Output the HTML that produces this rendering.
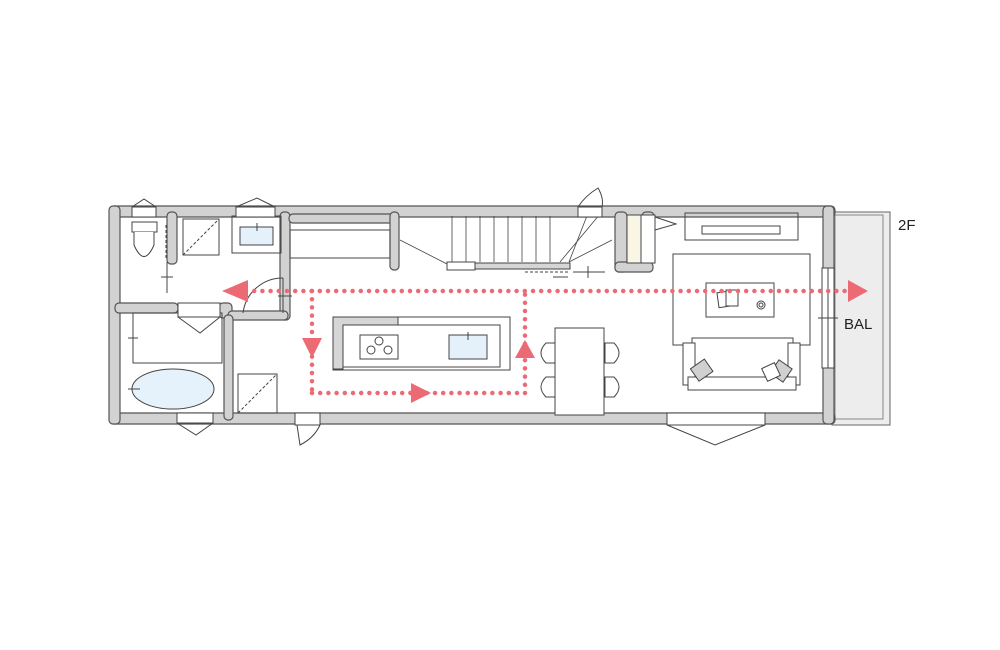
<!DOCTYPE html>
<html><head><meta charset="utf-8"><style>html,body{margin:0;padding:0;background:#fff}svg{display:block}</style></head>
<body>
<svg width="1000" height="650" viewBox="0 0 1000 650" xmlns="http://www.w3.org/2000/svg" font-family="Liberation Sans, sans-serif">
<rect width="1000" height="650" fill="#fff"/>
<!-- balcony -->
<rect x="832" y="212" width="58" height="213" fill="#ededed" stroke="#666" stroke-width="1"/>
<rect x="835" y="215" width="48" height="204" fill="none" stroke="#888" stroke-width="1"/>
<g fill="#d2d2d2" stroke="#555" stroke-width="1.2">
<!-- outer walls -->
<rect x="110" y="206" width="725" height="11" rx="4"/>
<rect x="110" y="413" width="725" height="11" rx="4"/>
<rect x="109" y="206" width="11" height="218" rx="4"/>
<rect x="823" y="206" width="11" height="218" rx="4"/>
<!-- interior -->
<rect x="167" y="212" width="10" height="52" rx="4"/>
<rect x="115" y="303" width="63" height="10" rx="4"/>
<rect x="219" y="303" width="13" height="15" rx="4"/>
<rect x="280" y="212" width="10" height="108" rx="4"/>
<rect x="228" y="311" width="60" height="9" rx="4"/>
<rect x="224" y="315" width="9" height="105" rx="4"/>
<rect x="289" y="214" width="106" height="9" rx="4"/>
<rect x="390" y="212" width="9" height="58" rx="4"/>
<rect x="615" y="212" width="12" height="60" rx="4"/>
<rect x="615" y="262" width="38" height="10" rx="4"/>
<rect x="642" y="212" width="12" height="15" rx="4"/>
</g>
<g fill="none" stroke="#444" stroke-width="1">
<!-- toilet -->
<rect x="132" y="222" width="25" height="10" fill="#fff"/>
<path d="M134 232 L134 245 Q144 268 154 245 L154 232" fill="#fff"/>
<line x1="166" y1="225" x2="166" y2="258" stroke-dasharray="3,2"/>
<line x1="167" y1="262" x2="167" y2="293"/><line x1="161" y1="277" x2="173" y2="277"/>
<rect x="132" y="207" width="24" height="10" fill="#fff"/><path d="M132 207 L144 199 L156 207"/>
<rect x="183" y="219" width="36" height="36"/><line x1="183" y1="255" x2="219" y2="219" stroke-dasharray="3,2"/>
<rect x="232" y="216" width="49" height="37"/>
<rect x="240" y="227" width="33" height="18" fill="#e4f1fa"/><line x1="257" y1="223" x2="257" y2="231"/>
<rect x="236" y="207" width="39" height="10" fill="#fff"/><path d="M236 207 L257 198 L275 207"/>
<rect x="290" y="230" width="100" height="28"/>
<!-- stairs -->
<g stroke-width="0.8">
<line x1="452" y1="216" x2="452" y2="262"/><line x1="466" y1="216" x2="466" y2="262"/><line x1="480" y1="216" x2="480" y2="262"/><line x1="494" y1="216" x2="494" y2="262"/><line x1="508" y1="216" x2="508" y2="262"/><line x1="522" y1="216" x2="522" y2="262"/><line x1="536" y1="216" x2="536" y2="262"/><line x1="550" y1="216" x2="550" y2="262"/>
<line x1="400" y1="240" x2="447" y2="264"/>
<line x1="569" y1="262" x2="590" y2="208"/><line x1="569" y1="262" x2="612" y2="240"/><line x1="560" y1="262" x2="600" y2="214"/>
</g>
<rect x="447" y="262" width="28" height="8" fill="#fff"/><rect x="475" y="263" width="95" height="6" fill="#d6d6d6"/>
<line x1="525" y1="272" x2="570" y2="272" stroke-dasharray="3,2"/><line x1="553" y1="277" x2="568" y2="277"/>
<line x1="573" y1="272" x2="605" y2="272"/><line x1="588" y1="266" x2="588" y2="278"/>
<rect x="578" y="207" width="24" height="10" fill="#fff"/><path d="M578 207 Q585 196 598 188 Q604 198 602 207"/>
<!-- pillar and cabinet -->
<rect x="627" y="215" width="14" height="48" fill="#faf6e6"/>
<rect x="641" y="215" width="14" height="48" fill="#fff"/>
<path d="M655 217 L676 224 L655 230"/>
<!-- door arc -->
<line x1="283" y1="278" x2="283" y2="313"/><path d="M243 313 A40 40 0 0 1 283 278"/>
<line x1="278" y1="296" x2="292" y2="296"/>
<!-- bath -->
<rect x="133" y="313" width="89" height="50"/><line x1="128" y1="338" x2="138" y2="338"/>
<rect x="178" y="303" width="42" height="14" fill="#fff"/><path d="M178 317 L200 333 L220 317"/>
<ellipse cx="173" cy="389" rx="41" ry="20" fill="#e6f2fb"/><line x1="128" y1="389" x2="140" y2="389"/>
<rect x="238" y="374" width="39" height="39"/><line x1="238" y1="413" x2="277" y2="374" stroke-dasharray="3,2"/>
<rect x="177" y="413" width="36" height="10" fill="#fff"/><path d="M177 423 L196 435 L213 423"/>
<rect x="295" y="413" width="25" height="12" fill="#fff"/><path d="M297 425 L300 445 Q314 438 320 425"/>
<!-- kitchen -->
<rect x="333" y="317" width="177" height="53" fill="#fff"/>
<path d="M333 317 H398 V325 H343 V369 H333 Z" fill="#d6d6d6"/>
<rect x="343" y="325" width="157" height="42" fill="#fff"/>
<rect x="360" y="335" width="38" height="24"/>
<circle cx="379" cy="341" r="4"/><circle cx="371" cy="350" r="4"/><circle cx="388" cy="350" r="4"/>
<rect x="449" y="335" width="38" height="24" fill="#e4f1fa"/><line x1="468" y1="332" x2="468" y2="340"/>
<!-- dining -->
<path d="M555 343 H546 Q536 353 546 363 H555 Z"/><path d="M555 377 H546 Q536 387 546 397 H555 Z"/>
<path d="M605 343 H614 Q624 353 614 363 H605 Z"/><path d="M605 377 H614 Q624 387 614 397 H605 Z"/>
<rect x="555" y="328" width="49" height="87" fill="#fff"/>
<!-- living -->
<rect x="685" y="213" width="113" height="27"/><rect x="702" y="226" width="78" height="8"/>
<rect x="673" y="254" width="137" height="91" fill="#fff"/>
<rect x="706" y="283" width="68" height="34"/>
<rect x="718" y="292" width="10" height="15" fill="#fff" transform="rotate(-8 723 300)"/><rect x="726" y="290" width="12" height="16" fill="#fff"/>
<circle cx="761" cy="305" r="4"/><circle cx="761" cy="305" r="2"/>
<rect x="692" y="338" width="101" height="45" fill="#fff"/>
<rect x="683" y="343" width="12" height="42" fill="#fff"/><rect x="788" y="343" width="12" height="42" fill="#fff"/>
<rect x="688" y="377" width="108" height="13" fill="#fff"/>
<rect x="693" y="363" width="17" height="15" fill="#d0d0d0" transform="rotate(-35 701 370)"/>
<rect x="773" y="363" width="16" height="16" fill="#d0d0d0" transform="rotate(35 781 371)"/>
<rect x="764" y="365" width="14" height="14" fill="#fff" transform="rotate(-25 771 372)"/>
<rect x="822" y="268" width="12" height="100" fill="#fff"/><line x1="828" y1="268" x2="828" y2="368"/><line x1="818" y1="318" x2="838" y2="318"/>
<rect x="667" y="413" width="98" height="12" fill="#fff"/><path d="M667 425 L715 445 L765 425"/>
</g>
<!-- route -->
<g stroke="#ec6a74" stroke-width="4.5" stroke-dasharray="0,8.2" fill="none" stroke-linecap="round">
<line x1="246" y1="291" x2="848" y2="291"/>
<line x1="312" y1="291" x2="312" y2="393"/>
<line x1="312" y1="393" x2="525" y2="393"/>
<line x1="525" y1="393" x2="525" y2="291"/>
</g>
<g fill="#ec6a74">
<path d="M222 291 L248 280 L248 302 Z"/>
<path d="M868 291 L848 280 L848 302 Z"/>
<path d="M312 358 L302 338 L322 338 Z"/>
<path d="M431 393 L411 383 L411 403 Z"/>
<path d="M525 340 L515 358 L535 358 Z"/>
</g>
<text x="898" y="230" font-size="15" fill="#222">2F</text>
<text x="844" y="329" font-size="15" fill="#222">BAL</text>
</svg>
</body></html>
